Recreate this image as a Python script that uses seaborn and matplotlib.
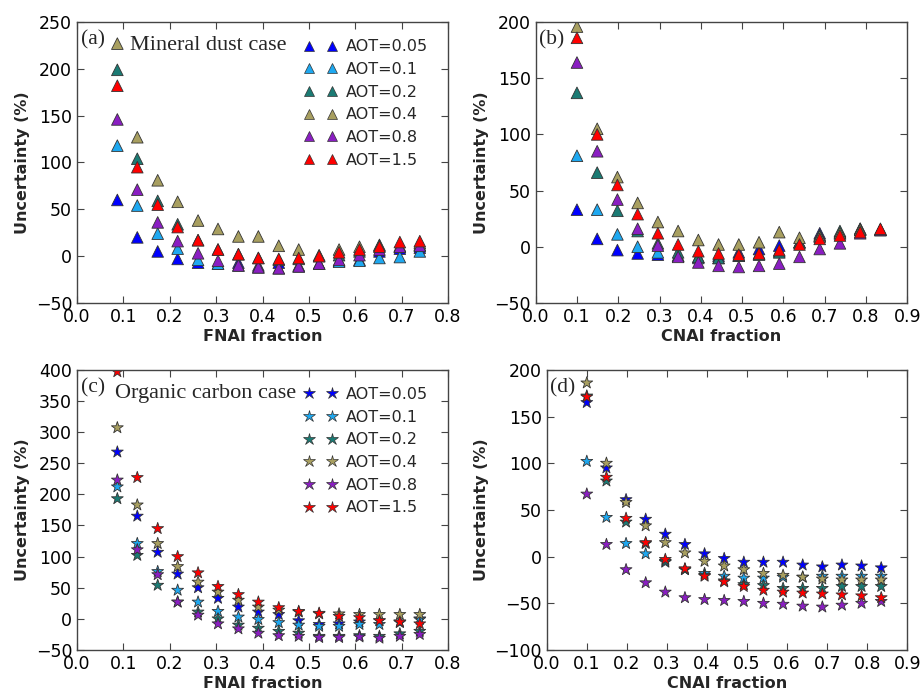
import numpy as np
import pandas as pd
import matplotlib
matplotlib.use("Agg")
import matplotlib.pyplot as plt
from matplotlib.lines import Line2D
import seaborn as sns

# ─────────────────────────────────────────────
# data
# ─────────────────────────────────────────────
AOT_LABELS = ["AOT=0.05", "AOT=0.1", "AOT=0.2", "AOT=0.4", "AOT=0.8", "AOT=1.5"]
COLORS = ["#0000FF", "#1EA8F0", "#1B7B74", "#A89F60", "#8A1EC2", "#FF0000"]

fnai = [0.087, 0.130, 0.174, 0.217, 0.261, 0.304, 0.348, 0.391,
        0.435, 0.478, 0.522, 0.565, 0.609, 0.652, 0.696, 0.739]
cnai = [0.100, 0.149, 0.198, 0.247, 0.296, 0.345, 0.394, 0.443,
        0.492, 0.541, 0.590, 0.639, 0.688, 0.737, 0.786, 0.835]

# (a) mineral dust, FNAI
dust_fnai = {
    "AOT=0.05": [60, 20, 5, -3, -7, -8, -7, -10, -7, -10, -8, -5, -4, 5, 8, 9],
    "AOT=0.1":  [118, 54, 24, 8, -4, -8, -10, -12, -13, -11, -8, -6, -5, -2, -1, 5],
    "AOT=0.2":  [199, 104, 59, 34, 17, 7, 2, -2, -4, -3, 0, 1, 5, 12, 10, 12],
    "AOT=0.4":  [227, 127, 81, 58, 38, 29, 21, 21, 11, 7, 1, 7, 10, 11, 11, 14],
    "AOT=0.8":  [146, 71, 36, 16, 3, -5, -10, -12, -13, -11, -8, -4, 1, 7, 10, 11],
    "AOT=1.5":  [182, 95, 55, 31, 17, 7, 2, -2, -3, -2, 0, 4, 7, 10, 15, 16],
}
# (b) mineral dust, CNAI
dust_cnai = {
    "AOT=0.05": [33, 7, -3, -6, -7, -8, -9, -8, -5, -2, 1, 4, 12, 13, 16, 15],
    "AOT=0.1":  [81, 33, 11, 0, -5, -8, -10, -10, -8, -6, -4, 4, 10, 12, 15, 15],
    "AOT=0.2":  [137, 66, 32, 14, 3, -5, -9, -10, -8, -7, -5, 4, 10, 14, 16, 15],
    "AOT=0.4":  [196, 105, 62, 39, 22, 14, 6, 2, 2, 4, 13, 8, 9, 12, 15, 15],
    "AOT=0.8":  [164, 85, 42, 16, 1, -9, -14, -17, -18, -17, -15, -9, -2, 3, 12, 15],
    "AOT=1.5":  [186, 100, 55, 29, 12, 2, -4, -6, -7, -6, -3, 2, 7, 10, 13, 16],
}
# (c) organic carbon, FNAI
oc_fnai = {
    "AOT=0.05": [268, 165, 107, 72, 50, 33, 19, 11, 7, -3, -9, -8, -5, -3, -5, 0],
    "AOT=0.1":  [212, 121, 76, 46, 27, 12, 3, -1, -6, -10, -12, -12, -9, -9, -6, -1],
    "AOT=0.2":  [193, 102, 54, 27, 11, 0, -10, -15, -20, -23, -28, -28, -27, -28, -24, -20],
    "AOT=0.4":  [307, 183, 121, 84, 59, 43, 30, 19, 14, 11, 8, 8, 7, 7, 7, 7],
    "AOT=0.8":  [223, 111, 71, 27, 6, -8, -16, -23, -27, -28, -30, -30, -29, -31, -28, -25],
    "AOT=1.5":  [397, 227, 145, 100, 74, 52, 39, 27, 18, 12, 9, 4, 2, -3, -5, -8],
}
# (d) organic carbon, CNAI
oc_cnai = {
    "AOT=0.05": [165, 95, 61, 40, 24, 13, 3, -2, -6, -6, -6, -9, -11, -9, -10, -12],
    "AOT=0.1":  [102, 42, 14, 3, -6, -14, -18, -21, -23, -23, -22, -22, -21, -21, -21, -21],
    "AOT=0.2":  [172, 81, 37, 14, -5, -14, -20, -26, -30, -31, -34, -34, -34, -32, -32, -32],
    "AOT=0.4":  [186, 100, 58, 33, 15, 4, -5, -10, -14, -18, -20, -22, -24, -25, -25, -25],
    "AOT=0.8":  [67, 13, -14, -28, -38, -44, -46, -47, -48, -50, -51, -53, -54, -52, -50, -48],
    "AOT=1.5":  [171, 85, 41, 15, -3, -13, -21, -27, -32, -36, -38, -39, -40, -41, -42, -44],
}


def to_long(xvals, table):
    rows = []
    for lab in AOT_LABELS:
        for x, y in zip(xvals, table[lab]):
            rows.append({"x": x, "y": y, "AOT": lab})
    return pd.DataFrame(rows)


# ─────────────────────────────────────────────
# style
# ─────────────────────────────────────────────
sns.set_style("ticks")
plt.rcParams.update({
    "font.family": "DejaVu Sans",
    "font.size": 11.5,
    "xtick.direction": "in",
    "ytick.direction": "in",
    "xtick.top": True,
    "ytick.right": True,
    "xtick.major.size": 5,
    "ytick.major.size": 5,
    "axes.edgecolor": "#444444",
    "axes.linewidth": 1.0,
    "xtick.color": "#444444",
    "ytick.color": "#444444",
    "xtick.labelcolor": "black",
    "ytick.labelcolor": "black",
    "xtick.labelsize": 12.5,
    "ytick.labelsize": 12.5,
})

fig = plt.figure(figsize=(9.22, 6.9), dpi=100)
ax_a = fig.add_axes([0.0835, 0.561, 0.4025, 0.407])
ax_b = fig.add_axes([0.581, 0.561, 0.403, 0.407])
ax_c = fig.add_axes([0.0835, 0.058, 0.4025, 0.406])
ax_d = fig.add_axes([0.593, 0.058, 0.391, 0.406])

panels = [
    (ax_a, fnai, dust_fnai, "^", 70, "(a)", "Mineral dust case", (0, 0.8), (-50, 250), 50, "FNAI fraction"),
    (ax_b, cnai, dust_cnai, "^", 70, "(b)", None, (0, 0.9), (-50, 200), 50, "CNAI fraction"),
    (ax_c, fnai, oc_fnai, "*", 80, "(c)", "Organic carbon case", (0, 0.8), (-50, 400), 50, "FNAI fraction"),
    (ax_d, cnai, oc_cnai, "*", 80, "(d)", None, (0, 0.9), (-100, 200), 50, "CNAI fraction"),
]

for ax, xv, table, marker, size, tag, case, xlim, ylim, ystep, xlabel in panels:
    df = to_long(xv, table)
    sns.scatterplot(data=df, x="x", y="y", hue="AOT", hue_order=AOT_LABELS,
                    palette=COLORS, marker=marker, s=size,
                    edgecolor="#333333", linewidth=0.6, legend=False, ax=ax)
    ax.set_xlim(*xlim)
    ax.set_ylim(*ylim)
    ax.set_xticks(np.arange(xlim[0], xlim[1] + 0.001, 0.1))
    ax.set_yticks(np.arange(ylim[0], ylim[1] + 1, ystep))
    ax.xaxis.set_major_formatter(matplotlib.ticker.FormatStrFormatter("%.1f"))
    ax.set_xlabel(xlabel, fontweight="bold", fontsize=11.5, labelpad=2)
    ax.set_ylabel("Uncertainty (%)", fontweight="bold", fontsize=11.5)
    ax.text(0.01, 0.935, tag, transform=ax.transAxes, family="Liberation Serif",
            fontsize=15.5, va="center", ha="left")
    if case:
        ax.text(0.102 if marker == "*" else 0.143, 0.915, case, transform=ax.transAxes,
                family="Liberation Serif", fontsize=16, va="center", ha="left")
        handles = [Line2D([], [], ls="none", marker=marker, color=c,
                          markeredgecolor="#333333", markeredgewidth=0.5,
                          markersize=7 if marker == "^" else 9)
                   for c in COLORS]
        ax.legend(handles, AOT_LABELS, loc="upper right", frameon=False,
                  numpoints=2, fontsize=11.5, labelspacing=0.48,
                  handlelength=2.0, handletextpad=0.6,
                  bbox_to_anchor=(0.985, 0.99))

fig.savefig("out.png", dpi=100)
